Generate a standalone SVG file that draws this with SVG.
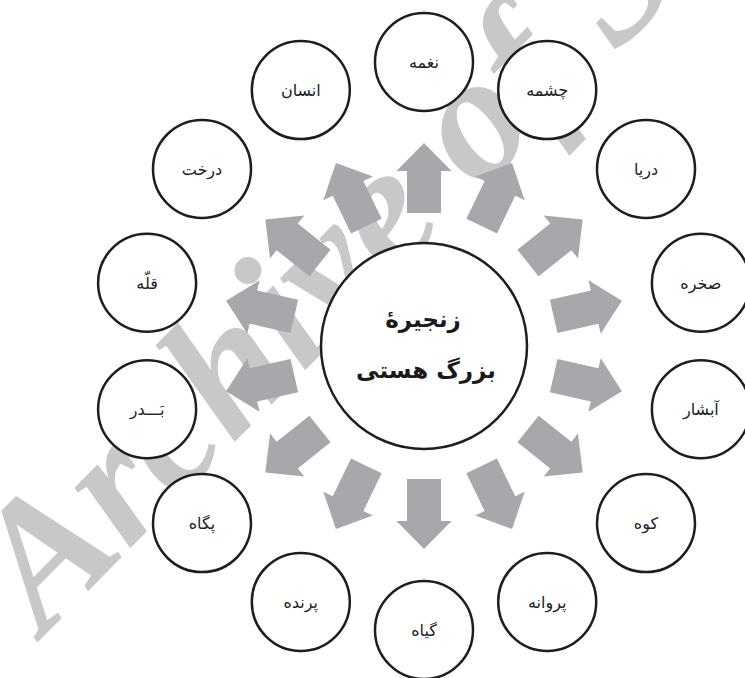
<svg xmlns="http://www.w3.org/2000/svg" xmlns:xlink="http://www.w3.org/1999/xlink" width="745" height="678" viewBox="0 0 745 678">
<style>
.node circle{fill:#ffffff;stroke:#1e1e1e;stroke-width:2.5}
.lbl{font-family:"DejaVu Sans",sans-serif;font-size:16px;fill:#222;text-anchor:middle}
.main{font-family:"DejaVu Sans",sans-serif;font-size:23px;font-weight:bold;fill:#1a1a1a;text-anchor:middle}
.arr{fill:#a6a8ab}
.wm{font-family:"Liberation Serif",serif;font-size:179px;font-weight:bold;font-style:italic;fill:#c8c8c8}
</style>
<defs>
<path id="arrow" d="M-17,-133 L17,-133 L17,-175 L27.5,-175 L0,-203 L-27.5,-175 L-17,-175 Z"/>
</defs>
<rect width="745" height="678" fill="#ffffff"/>
<text class="wm" transform="translate(44,636) rotate(-45.5)">Archive of SID</text>
<g id="connectors" class="arr">
<use xlink:href="#arrow" transform="translate(424,346) rotate(0)"/>
<use xlink:href="#arrow" transform="translate(424,346) rotate(25.714)"/>
<use xlink:href="#arrow" transform="translate(424,346) rotate(51.429)"/>
<use xlink:href="#arrow" transform="translate(424,346) rotate(77.143)"/>
<use xlink:href="#arrow" transform="translate(424,346) rotate(102.857)"/>
<use xlink:href="#arrow" transform="translate(424,346) rotate(128.571)"/>
<use xlink:href="#arrow" transform="translate(424,346) rotate(154.286)"/>
<use xlink:href="#arrow" transform="translate(424,346) rotate(180)"/>
<use xlink:href="#arrow" transform="translate(424,346) rotate(205.714)"/>
<use xlink:href="#arrow" transform="translate(424,346) rotate(231.429)"/>
<use xlink:href="#arrow" transform="translate(424,346) rotate(257.143)"/>
<use xlink:href="#arrow" transform="translate(424,346) rotate(282.857)"/>
<use xlink:href="#arrow" transform="translate(424,346) rotate(308.571)"/>
<use xlink:href="#arrow" transform="translate(424,346) rotate(334.286)"/>
</g>
<g id="center" class="node">
<circle cx="424" cy="346" r="103"/>
<text class="main" x="423" y="327">زنجیرهٔ</text>
<text class="main" x="426" y="378">بزرگ هستی</text>
</g>
<g id="n0" class="node"><circle cx="424" cy="62" r="49"/><text class="lbl" x="424" y="68">نغمه</text></g>
<g id="n1" class="node"><circle cx="547.2" cy="90.1" r="49"/><text class="lbl" x="547.2" y="96">چشمه</text></g>
<g id="n2" class="node"><circle cx="646" cy="168.9" r="49"/><text class="lbl" x="646" y="175">دریا</text></g>
<g id="n3" class="node"><circle cx="700.9" cy="282.8" r="49"/><text class="lbl" x="700.9" y="289">صخره</text></g>
<g id="n4" class="node"><circle cx="700.9" cy="409.2" r="49"/><text class="lbl" x="700.9" y="415">آبشار</text></g>
<g id="n5" class="node"><circle cx="646" cy="523.1" r="49"/><text class="lbl" x="646" y="529">کوه</text></g>
<g id="n6" class="node"><circle cx="547.2" cy="601.9" r="49"/><text class="lbl" x="547.2" y="608">پروانه</text></g>
<g id="n7" class="node"><circle cx="424" cy="630" r="49"/><text class="lbl" x="424" y="636">گیاه</text></g>
<g id="n8" class="node"><circle cx="300.8" cy="601.9" r="49"/><text class="lbl" x="300.8" y="608">پرنده</text></g>
<g id="n9" class="node"><circle cx="202" cy="523.1" r="49"/><text class="lbl" x="202" y="529">پگاه</text></g>
<g id="n10" class="node"><circle cx="147.1" cy="409.2" r="49"/><text class="lbl" x="147.1" y="415">بَـــدر</text></g>
<g id="n11" class="node"><circle cx="147.1" cy="282.8" r="49"/><text class="lbl" x="147.1" y="289">قلّه</text></g>
<g id="n12" class="node"><circle cx="202" cy="168.9" r="49"/><text class="lbl" x="202" y="175">درخت</text></g>
<g id="n13" class="node"><circle cx="300.8" cy="90.1" r="49"/><text class="lbl" x="300.8" y="96">انسان</text></g>
</svg>
